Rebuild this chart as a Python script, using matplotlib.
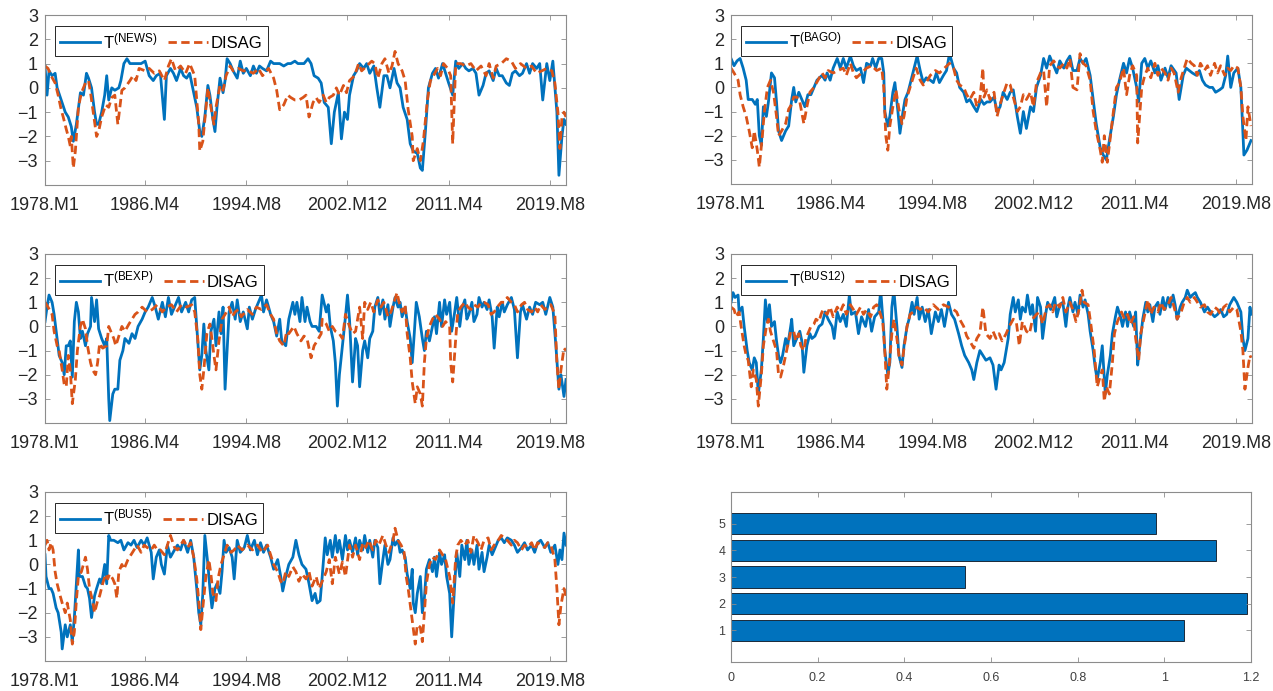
import matplotlib
matplotlib.use("Agg")
import matplotlib.pyplot as plt
import numpy as np

plt.rcParams['font.family'] = ['Liberation Sans', 'DejaVu Sans']

# x axis: month index, 1 = 1978.M1
tick_pos = [1, 100, 200, 300, 400, 500]
tick_labels = ['1978.M1', '1986.M4', '1994.M8', '2002.M12', '2011.M4', '2019.M8']

# (month index, value)
news_t = [(1,0.9),(3,-0.3),(5,0.7),(8,0.5),(11,0.6),(13,0.0),(17,-0.5),(21,-1.0),(24,-1.2),(27,-1.6),(29,-2.2),(32,-1.5),(36,-0.2),(39,-0.3),(42,0.6),(44,0.4),(47,0.0),(50,-1.0),(52,-1.5),(54,-1.5),(57,-1.0),(60,-0.3),(62,0.5),(64,-0.5),(67,0.0),(70,-0.1),(74,0.0),(76,0.3),(79,1.0),(82,1.2),(85,1.0),(88,1.0),(91,1.0),(96,1.0),(100,1.1),(104,0.5),(108,0.3),(111,0.5),(115,0.6),(119,-1.3),(121,0.5),(125,0.8),(128,0.6),(131,0.3),(135,0.8),(138,0.5),(141,0.4),(144,0.6),(147,0.0),(151,-0.8),(154,-1.8),(156,-2.0),(159,-1.2),(162,0.1),(164,-0.3),(167,-1.3),(169,-1.8),(171,-0.8),(174,0.4),(177,-0.2),(179,0.3),(181,1.2),(184,1.0),(187,0.7),(191,0.4),(194,1.1),(197,0.6),(200,0.8),(204,0.5),(207,0.9),(210,0.6),(213,0.9),(216,0.8),(220,0.7),(224,1.1),(227,1.0),(230,1.0),(233,1.0),(237,0.9),(241,1.0),(244,1.0),(248,1.1),(251,1.0),(254,1.0),(257,1.0),(261,1.2),(264,1.0),(267,0.5),(271,0.4),(274,0.2),(277,-0.6),(281,-0.8),(284,-2.3),(287,-1.0),(291,-0.2),(294,-2.1),(297,-1.0),(300,-1.3),(302,-0.3),(306,0.5),(309,0.7),(312,1.0),(316,0.8),(319,1.0),(322,0.6),(326,0.9),(329,0.0),(332,-0.8),(336,0.5),(339,0.5),(342,0.0),(346,0.8),(349,0.2),(352,0.0),(355,-0.8),(359,-1.3),(362,-2.3),(365,-2.6),(369,-2.7),(372,-3.3),(374,-3.4),(377,-1.8),(380,0.0),(384,0.6),(387,0.8),(390,0.4),(394,1.0),(397,0.6),(400,0.2),(404,-0.3),(407,1.1),(410,0.8),(414,1.0),(417,0.8),(420,0.7),(424,0.8),(427,0.6),(430,-0.3),(434,0.1),(437,0.6),(440,0.7),(444,0.3),(447,0.8),(450,0.5),(453,0.5),(457,0.2),(460,0.1),(463,0.6),(466,0.7),(470,0.5),(473,0.6),(477,1.0),(480,0.6),(483,1.0),(487,0.8),(490,1.0),(493,-0.5),(497,1.0),(500,0.3),(503,1.1),(507,-1.0),(509,-3.6),(512,-2.0),(514,-1.3),(516,-1.5)]
news_disag = [(1,0.9),(4,0.8),(7,0.5),(11,0.2),(14,-0.3),(17,-0.9),(19,-1.2),(22,-1.7),(24,-2.0),(26,-2.4),(27,-2.0),(29,-3.3),(31,-2.6),(34,-0.8),(37,-0.2),(41,0.2),(44,0.3),(46,-0.2),(49,-1.1),(52,-2.0),(54,-1.8),(57,-1.2),(61,-0.7),(64,-0.8),(67,-0.4),(70,-0.3),(73,-1.5),(77,-0.1),(80,0.0),(85,0.3),(88,0.5),(91,0.3),(94,0.8),(100,0.7),(104,0.8),(109,0.6),(114,0.7),(119,0.3),(123,0.9),(126,1.2),(130,0.7),(135,0.9),(140,0.6),(144,1.0),(149,0.5),(151,-0.5),(153,-1.5),(154,-2.6),(157,-2.2),(159,-1.3),(162,0.0),(165,-0.8),(168,-1.5),(170,-0.8),(174,0.1),(177,-0.1),(180,0.5),(184,0.9),(187,0.7),(192,0.8),(197,0.7),(202,0.7),(207,0.6),(212,0.8),(216,0.5),(222,0.8),(227,0.4),(230,-0.1),(233,-0.9),(237,-0.7),(240,-0.4),(241,-0.3),(244,-0.4),(248,-0.5),(252,-0.5),(256,-0.4),(259,-0.3),(262,-1.2),(266,-0.6),(269,-0.4),(272,-0.6),(276,-0.3),(279,-0.6),(282,-0.4),(286,-0.3),(289,0.0),(292,-0.3),(296,0.1),(299,-0.2),(302,0.3),(307,0.5),(311,1.0),(314,0.7),(319,0.9),(324,1.1),(327,1.0),(330,0.4),(334,1.0),(337,1.2),(341,0.6),(344,0.9),(347,1.5),(350,1.0),(354,0.7),(357,0.3),(360,-0.9),(364,-2.0),(365,-3.0),(369,-2.5),(372,-3.0),(375,-2.2),(379,-0.5),(382,0.3),(385,0.5),(389,0.8),(392,0.5),(395,1.0),(399,0.8),(402,0.5),(404,-2.3),(407,1.0),(412,1.0),(417,0.9),(422,1.0),(427,0.7),(432,0.9),(437,0.5),(440,1.0),(444,0.4),(447,0.9),(452,1.0),(457,1.2),(462,1.1),(466,0.8),(471,1.0),(477,0.8),(482,0.9),(487,0.6),(492,0.7),(497,0.8),(502,0.7),(505,0.2),(508,-1.0),(510,-2.5),(512,-1.2),(514,-1.0),(516,-1.2)]

bago_t = [(1,1.2),(4,0.9),(7,1.1),(10,1.2),(13,0.8),(16,0.3),(18,-0.5),(22,-0.5),(25,-0.7),(27,-0.5),(29,-2.0),(31,-2.4),(33,-0.8),(36,-1.2),(38,-0.6),(41,0.6),(44,0.4),(46,-0.6),(48,-1.8),(51,-2.2),(55,-1.8),(58,-1.6),(61,-0.5),(63,0.0),(65,-0.6),(68,-0.2),(71,-0.5),(74,-0.8),(77,-0.3),(80,-0.3),(83,0.0),(86,0.3),(91,0.5),(94,0.3),(96,0.6),(99,0.3),(102,0.8),(106,1.2),(109,0.8),(112,1.2),(115,0.8),(119,1.3),(122,0.9),(125,0.7),(129,0.8),(132,0.2),(135,1.0),(139,0.9),(141,1.2),(144,0.8),(147,1.2),(150,1.2),(152,0.6),(153,-1.0),(156,-1.6),(158,-1.2),(161,-0.2),(163,0.2),(166,-1.0),(168,-1.9),(171,-1.0),(173,-0.5),(176,-0.2),(179,0.3),(182,0.8),(185,1.3),(188,0.7),(191,0.2),(194,0.4),(198,0.3),(201,0.2),(204,0.6),(207,0.2),(211,0.5),(214,0.7),(217,1.4),(221,0.8),(224,0.6),(227,0.0),(231,-0.2),(234,-0.6),(237,-0.5),(241,-0.8),(244,-1.0),(248,-0.5),(251,-0.7),(254,-0.6),(257,-0.6),(261,-0.4),(264,-1.0),(267,-0.8),(270,-0.2),(274,-0.5),(277,-0.2),(280,-0.1),(284,-1.2),(287,-1.9),(290,-1.0),(293,-1.7),(297,-0.8),(300,-1.0),(303,0.0),(307,0.5),(310,1.2),(313,0.8),(316,1.3),(320,0.9),(323,0.6),(326,1.1),(330,0.8),(333,1.1),(336,1.3),(339,0.7),(343,0.7),(346,1.2),(349,1.0),(352,1.2),(356,0.5),(359,-0.5),(362,-1.5),(366,-2.5),(369,-2.8),(372,-3.0),(375,-2.2),(379,-1.2),(382,-0.3),(385,0.3),(389,1.0),(392,0.6),(395,1.2),(398,0.8),(402,0.0),(404,-0.6),(407,1.0),(410,1.2),(413,0.8),(416,1.1),(420,0.6),(423,0.9),(426,0.3),(430,0.8),(433,0.4),(436,0.9),(441,0.6),(444,-0.5),(448,0.5),(451,0.8),(454,0.7),(457,0.6),(461,0.5),(464,0.7),(467,0.3),(470,0.1),(474,0.0),(477,0.0),(480,-0.2),(484,-0.1),(487,0.0),(490,0.5),(492,1.3),(495,0.0),(498,0.6),(502,0.8),(505,0.0),(508,-2.8),(511,-2.6),(515,-2.2)]
bago_disag = [(1,0.8),(4,0.6),(8,0.3),(10,-0.3),(13,-0.8),(16,-1.2),(19,-1.8),(22,-2.5),(24,-1.8),(27,-2.6),(29,-3.3),(32,-2.0),(34,-1.0),(37,0.0),(40,0.3),(43,-0.2),(46,-1.2),(48,-2.0),(51,-1.8),(55,-1.5),(58,-0.9),(61,-0.7),(63,-0.4),(66,-0.4),(69,-0.6),(73,-1.5),(76,-0.8),(79,-0.2),(83,0.0),(87,0.3),(91,0.6),(94,0.4),(97,0.7),(102,0.6),(107,0.7),(112,0.8),(115,0.5),(119,1.0),(122,0.6),(125,0.4),(130,0.6),(135,0.8),(140,0.9),(145,0.7),(150,0.8),(152,0.0),(154,-2.0),(156,-2.6),(158,-1.6),(161,-0.8),(164,-0.1),(167,-0.9),(170,-1.5),(172,-1.2),(175,-0.4),(178,0.0),(181,0.4),(184,0.8),(188,0.3),(191,0.1),(194,0.2),(198,0.5),(203,0.7),(207,0.6),(212,0.8),(217,1.0),(221,0.8),(224,0.3),(227,0.1),(231,0.0),(234,-0.3),(237,-0.5),(241,-0.2),(244,-0.8),(247,-0.5),(250,0.8),(251,-0.4),(254,-0.1),(257,-0.5),(261,-0.2),(264,-1.2),(267,-0.7),(270,-0.3),(274,0.2),(277,0.1),(280,-0.4),(284,-1.0),(287,-0.8),(290,-0.3),(293,-0.5),(297,-0.2),(300,-0.8),(303,0.2),(307,0.6),(310,0.7),(313,-0.8),(316,0.9),(320,1.1),(323,0.9),(326,0.8),(330,1.0),(333,0.8),(336,1.2),(339,0.0),(343,-0.1),(346,1.4),(349,1.0),(352,0.9),(356,0.3),(359,-1.0),(362,-1.8),(366,-2.6),(368,-3.1),(370,-2.0),(373,-3.1),(375,-2.4),(379,-1.0),(382,0.0),(385,0.2),(389,0.8),(392,-0.3),(395,0.5),(398,0.9),(402,0.5),(403,-2.3),(407,0.0),(410,0.5),(413,0.8),(416,0.4),(420,1.0),(423,0.5),(426,0.8),(430,0.6),(433,0.3),(436,0.8),(439,0.6),(443,-0.2),(446,0.4),(449,0.8),(452,1.2),(456,1.0),(459,0.9),(462,0.5),(465,1.0),(469,0.7),(472,0.9),(475,0.5),(479,1.0),(482,0.6),(485,0.9),(489,0.5),(492,0.8),(495,0.7),(498,0.9),(502,0.8),(505,0.0),(507,-1.2),(510,-2.2),(512,-0.8),(515,-1.6)]

bexp_t = [(1,0.2),(3,0.8),(5,1.3),(8,1.0),(10,0.5),(13,-0.5),(15,-1.2),(18,-1.5),(20,-2.0),(22,-0.8),(24,-0.8),(26,-0.6),(28,-2.1),(30,0.2),(32,1.0),(34,0.6),(36,-0.5),(38,-0.2),(41,-0.8),(43,-0.3),(46,0.0),(47,1.2),(50,0.2),(52,1.1),(54,-0.1),(57,-0.5),(60,-0.8),(62,-0.5),(64,-3.0),(65,-3.9),(68,-2.8),(70,-2.6),(73,-2.6),(75,-1.4),(78,-1.0),(80,-0.5),(84,-0.7),(87,-0.3),(90,-0.5),(93,0.0),(97,0.3),(100,0.6),(103,0.8),(107,1.2),(110,0.8),(113,0.3),(117,1.0),(120,0.4),(123,1.2),(126,0.5),(130,0.9),(133,1.2),(136,0.6),(140,1.0),(143,0.6),(146,1.1),(149,1.2),(152,-0.6),(154,-1.8),(156,-1.2),(158,0.1),(160,-1.0),(163,-1.8),(165,-0.2),(168,0.3),(170,-0.8),(173,0.6),(175,-0.3),(177,0.8),(179,-2.6),(183,0.6),(186,1.0),(189,0.3),(191,1.1),(194,0.2),(197,0.6),(201,-0.1),(203,0.8),(206,0.3),(209,0.7),(212,1.0),(215,1.3),(217,0.6),(220,1.1),(224,0.5),(227,0.2),(230,-0.4),(233,0.3),(235,-0.6),(239,-0.8),(242,0.3),(246,1.0),(248,0.5),(250,1.0),(253,0.2),(255,1.2),(258,0.2),(260,0.8),(263,0.2),(265,0.0),(269,0.0),(272,-0.2),(275,1.3),(279,0.6),(281,0.9),(283,0.0),(286,-0.6),(288,-1.5),(290,-3.3),(292,-2.0),(295,-0.8),(298,0.4),(300,1.3),(302,0.3),(305,-2.3),(308,-0.5),(310,-0.8),(312,-2.5),(315,-1.0),(317,-0.6),(320,-1.3),(322,-0.5),(325,-0.2),(327,0.8),(330,1.2),(332,0.5),(335,1.1),(337,0.3),(340,0.9),(342,0.0),(345,0.8),(347,1.2),(350,0.8),(352,1.0),(354,0.4),(357,0.8),(359,0.2),(362,-0.5),(364,-1.5),(366,-0.3),(368,1.0),(371,0.4),(374,-0.5),(376,-1.0),(378,-0.2),(381,-0.6),(384,0.0),(386,0.4),(388,-0.3),(391,1.0),(393,0.0),(396,1.1),(398,0.5),(401,1.0),(403,-0.2),(406,0.6),(408,1.2),(411,0.0),(413,0.7),(416,1.1),(418,0.3),(420,0.5),(423,1.0),(425,0.2),(428,0.5),(430,1.2),(433,0.8),(435,1.0),(438,0.7),(440,1.1),(443,0.4),(445,-0.9),(448,0.8),(450,0.4),(453,1.0),(455,0.6),(458,0.9),(462,1.2),(465,0.7),(468,-1.3),(471,0.6),(473,0.9),(477,0.3),(480,0.8),(483,0.5),(486,1.0),(490,0.9),(493,1.0),(496,0.5),(500,1.2),(503,0.8),(506,-0.8),(509,-2.6),(511,-2.0),(514,-2.9),(516,-2.2)]
bexp_disag = [(1,1.0),(4,0.8),(8,0.5),(10,-0.2),(13,-0.8),(15,-1.0),(18,-1.8),(20,-2.4),(22,-2.5),(24,-1.2),(26,-1.8),(28,-3.2),(31,-2.2),(33,-1.0),(36,0.0),(38,0.3),(41,-0.1),(43,-0.8),(46,-1.5),(48,-1.8),(51,-2.0),(53,-1.5),(55,-0.7),(58,-0.9),(62,-0.8),(64,0.0),(66,-0.2),(69,-0.5),(71,-0.8),(74,-0.4),(77,0.0),(80,-0.2),(84,0.1),(87,0.3),(90,0.5),(93,0.6),(97,0.8),(102,0.6),(107,0.7),(112,0.9),(117,0.6),(121,0.8),(126,0.9),(131,0.6),(136,0.9),(141,0.8),(146,0.9),(149,0.6),(152,-0.5),(154,-2.0),(156,-2.6),(158,-1.8),(161,-0.3),(164,0.1),(166,-0.5),(168,-1.2),(170,-1.8),(173,-0.6),(176,0.3),(179,0.5),(183,0.8),(186,0.4),(189,0.6),(192,0.7),(195,0.4),(201,0.7),(206,0.5),(210,0.8),(215,0.7),(220,0.9),(224,0.5),(227,0.3),(230,-0.3),(233,-0.6),(237,-0.8),(240,-0.2),(242,-0.3),(247,0.0),(250,-0.3),(254,-0.6),(257,-0.4),(260,-0.5),(264,-1.3),(267,-0.8),(270,-0.6),(274,-0.3),(275,0.3),(279,0.1),(282,-0.2),(285,0.0),(288,-0.2),(292,-0.3),(295,-0.5),(298,0.5),(302,0.0),(305,-0.3),(308,-0.2),(312,0.8),(315,-0.5),(317,1.0),(320,0.7),(323,1.0),(326,0.6),(330,1.1),(333,0.8),(336,1.0),(340,0.4),(343,0.6),(346,1.0),(349,1.4),(351,1.0),(354,0.6),(357,0.9),(359,-0.3),(362,-1.3),(364,-2.3),(367,-3.2),(369,-2.5),(372,-2.8),(374,-3.3),(376,-1.5),(378,-0.5),(381,0.0),(384,0.3),(387,0.5),(391,0.3),(394,0.0),(397,0.2),(401,0.0),(402,-1.5),(404,-2.3),(407,-0.5),(409,0.6),(412,0.8),(416,1.0),(419,0.8),(422,0.7),(425,0.9),(429,0.8),(432,1.0),(435,1.0),(439,0.9),(442,0.5),(445,0.6),(448,0.8),(452,1.0),(455,1.0),(458,1.2),(462,1.0),(465,0.9),(468,0.6),(472,0.9),(475,1.0),(478,0.7),(482,0.6),(485,0.8),(488,0.6),(491,0.9),(495,0.7),(498,0.8),(501,0.9),(505,0.5),(507,-1.5),(509,-2.6),(511,-1.8),(514,-0.9),(516,-1.0)]

bus12_t = [(1,1.0),(3,1.4),(5,1.2),(8,1.3),(9,0.6),(12,0.8),(14,0.0),(17,-1.0),(19,-1.5),(22,-1.8),(24,-1.3),(26,-1.5),(28,-2.8),(31,-1.8),(33,-0.5),(35,1.1),(37,0.2),(39,0.9),(41,0.0),(44,0.2),(46,-0.6),(48,-1.2),(50,-1.5),(52,-1.2),(55,-0.5),(57,-0.8),(60,0.0),(61,0.3),(63,-0.8),(66,-0.5),(69,-0.2),(71,-0.6),(73,-1.9),(76,-0.8),(79,-0.3),(81,-0.5),(84,-0.4),(88,0.0),(91,0.1),(94,0.6),(97,0.3),(101,0.0),(103,-0.5),(106,0.6),(109,0.2),(112,0.5),(115,0.0),(118,1.3),(120,0.5),(124,0.6),(127,-0.3),(130,0.4),(134,0.0),(137,0.7),(140,-0.2),(143,0.4),(147,0.6),(149,1.5),(152,-0.2),(153,-1.0),(156,-2.0),(158,-1.5),(160,0.8),(162,1.5),(165,0.0),(167,-1.2),(170,-1.7),(172,-0.8),(175,0.0),(177,0.3),(180,1.0),(182,0.5),(185,1.2),(187,0.3),(190,0.8),(193,0.2),(196,0.7),(199,-0.3),(203,0.6),(206,0.2),(209,0.7),(212,0.0),(216,1.0),(219,0.5),(222,0.3),(226,-0.3),(229,-0.8),(232,-1.2),(236,-1.5),(239,-1.8),(241,-2.2),(244,-1.5),(247,-1.0),(250,-1.2),(253,-1.4),(257,-1.3),(260,-1.6),(263,-2.6),(266,-1.6),(268,-1.8),(271,-1.5),(275,-0.5),(277,0.5),(280,1.2),(282,0.6),(285,1.1),(287,0.3),(289,0.8),(292,0.6),(294,1.3),(297,0.5),(299,0.9),(302,-0.2),(304,1.2),(307,0.8),(309,-0.5),(312,0.5),(314,1.0),(317,0.7),(321,1.2),(323,0.4),(326,0.9),(329,1.0),(332,0.0),(334,0.8),(336,1.2),(339,0.6),(341,1.0),(344,0.5),(346,1.3),(349,0.8),(351,1.1),(354,0.5),(356,-0.2),(359,-1.0),(361,-1.7),(363,-2.2),(366,-1.5),(368,-0.8),(371,-2.8),(373,-2.0),(376,-1.2),(378,-0.3),(381,0.4),(383,0.8),(386,0.4),(388,0.0),(391,0.6),(393,0.0),(395,0.6),(399,0.0),(401,0.6),(403,-1.6),(405,-0.8),(408,0.3),(411,1.0),(413,0.6),(415,0.9),(418,0.2),(420,0.8),(423,1.0),(425,0.5),(428,1.2),(430,0.7),(433,1.2),(435,0.8),(438,1.3),(440,0.9),(442,0.3),(445,0.8),(447,1.0),(450,1.2),(452,1.5),(455,1.2),(457,1.3),(460,1.4),(462,1.2),(465,1.0),(469,0.6),(472,0.8),(475,0.6),(479,0.4),(482,0.5),(485,0.7),(488,0.4),(491,0.5),(494,0.9),(498,1.2),(501,1.0),(505,0.6),(507,-0.5),(509,-1.0),(512,-0.5),(514,0.8),(515,0.5)]
bus12_disag = [(1,0.8),(4,0.7),(6,0.4),(9,0.6),(11,0.0),(14,-0.8),(16,-1.2),(18,-1.4),(21,-2.5),(23,-1.8),(26,-2.2),(28,-3.3),(31,-2.0),(33,-0.8),(36,0.0),(38,0.3),(40,-0.2),(43,-0.6),(46,-1.0),(48,-2.0),(50,-2.1),(53,-1.6),(56,-1.0),(58,-0.6),(60,-0.2),(63,-0.2),(65,-0.6),(68,-0.3),(70,-0.8),(73,-1.0),(75,-0.5),(78,-0.2),(80,0.0),(83,0.1),(85,0.3),(88,0.2),(90,0.5),(92,0.7),(96,0.5),(99,0.8),(102,0.4),(106,0.8),(109,0.6),(112,0.9),(115,0.5),(119,0.9),(122,0.7),(125,0.5),(129,0.8),(132,0.5),(135,0.7),(139,0.4),(142,0.8),(145,0.9),(148,0.6),(151,0.2),(153,-1.0),(155,-2.6),(157,-1.8),(160,-0.3),(162,0.3),(165,-0.5),(167,-1.2),(170,-1.6),(172,-0.9),(175,0.0),(178,0.5),(181,0.6),(185,0.8),(188,0.7),(191,0.8),(196,0.6),(201,0.9),(206,0.7),(211,0.9),(216,0.8),(221,0.7),(224,0.6),(227,0.3),(231,0.0),(234,-0.4),(237,-0.6),(241,-0.9),(244,-0.5),(247,-0.3),(250,0.8),(253,-0.3),(257,-0.5),(260,-0.2),(263,-0.5),(266,-0.3),(269,-0.6),(273,-0.3),(276,0.0),(280,0.3),(283,0.2),(286,-0.8),(289,0.2),(293,-0.2),(296,-0.3),(299,0.3),(303,0.5),(306,0.6),(309,0.1),(313,0.8),(316,0.9),(319,0.6),(322,1.0),(326,0.8),(329,1.2),(332,0.6),(336,1.0),(339,0.7),(342,0.2),(345,0.7),(348,1.5),(350,1.0),(354,0.9),(357,0.0),(360,-1.0),(363,-2.5),(365,-2.2),(368,-1.8),(370,-3.1),(372,-2.5),(375,-2.8),(378,-1.5),(380,-0.3),(383,0.2),(387,0.6),(390,0.3),(393,0.5),(396,0.1),(399,0.4),(401,-0.5),(404,-1.4),(406,-0.3),(410,0.5),(413,1.1),(416,0.5),(419,0.8),(423,0.6),(426,1.0),(429,0.7),(433,0.9),(436,1.2),(439,0.8),(442,0.3),(446,0.6),(449,1.0),(452,1.2),(455,1.0),(459,1.2),(462,1.0),(465,0.8),(469,0.9),(472,0.6),(475,0.5),(479,0.8),(482,0.7),(485,0.5),(488,0.8),(491,0.9),(494,0.6),(498,0.8),(501,0.7),(505,-0.2),(507,-1.0),(509,-2.6),(512,-1.7),(514,-1.2),(515,-1.3)]

bus5_t = [(1,0.4),(2,-0.5),(5,-1.0),(7,-1.0),(9,-1.2),(12,-1.8),(14,-2.0),(17,-2.8),(18,-3.5),(21,-2.5),(23,-3.0),(26,-2.5),(28,-3.2),(30,-2.2),(32,-0.8),(34,0.6),(35,-0.5),(38,-0.5),(41,-0.9),(43,-1.0),(45,-1.4),(47,-2.2),(50,-1.3),(52,-1.0),(55,-0.6),(57,-0.8),(60,0.0),(62,-0.8),(64,1.2),(66,1.0),(69,1.0),(73,0.9),(76,1.0),(79,0.6),(83,0.9),(86,0.8),(89,1.0),(92,0.7),(96,1.0),(99,0.8),(102,1.1),(106,0.5),(108,-0.6),(111,0.3),(114,0.6),(116,0.0),(119,-0.4),(122,0.8),(125,0.3),(129,0.6),(132,0.8),(135,0.6),(138,1.0),(142,0.5),(145,1.0),(148,0.3),(151,-1.0),(153,-2.0),(155,-2.5),(157,-1.2),(159,1.2),(162,0.0),(164,-1.0),(166,-1.8),(169,-1.0),(171,-0.8),(174,-1.2),(176,-0.3),(178,1.0),(180,0.5),(183,0.7),(186,0.3),(188,-0.6),(191,1.0),(194,0.5),(198,0.7),(201,1.2),(204,0.6),(208,1.0),(211,0.4),(214,0.9),(217,0.5),(220,0.8),(224,0.3),(227,-0.2),(231,0.2),(234,-0.5),(236,-1.1),(239,-0.5),(242,0.0),(246,0.3),(249,1.0),(252,0.4),(255,0.0),(259,-0.2),(262,-0.8),(265,-1.5),(268,-1.2),(270,-1.6),(273,-1.5),(275,-0.5),(278,1.1),(280,0.4),(283,1.0),(285,0.3),(288,1.2),(290,0.5),(292,1.0),(295,0.2),(298,1.2),(300,0.6),(302,1.0),(305,0.5),(308,1.1),(310,0.4),(312,1.0),(315,0.6),(317,1.2),(320,0.5),(322,1.0),(325,0.3),(327,1.0),(330,0.7),(332,-0.8),(335,0.2),(337,0.8),(340,0.0),(342,0.2),(345,1.1),(347,0.8),(350,1.0),(352,0.5),(354,0.6),(357,0.3),(359,-0.4),(362,-1.0),(364,-0.2),(365,-1.6),(367,-2.0),(369,-1.2),(372,-0.5),(374,-2.0),(376,-1.4),(378,-0.2),(381,0.2),(384,-0.3),(386,0.3),(388,-0.5),(391,0.5),(393,0.0),(396,0.4),(398,-0.5),(401,-1.2),(403,-3.0),(406,-0.8),(408,0.5),(411,-0.5),(413,0.8),(416,0.2),(418,1.0),(420,0.0),(423,0.6),(425,0.0),(428,0.8),(430,-0.2),(433,0.5),(435,-0.3),(438,0.3),(440,0.8),(443,0.4),(445,0.6),(449,1.0),(452,1.1),(455,0.9),(458,1.1),(462,1.0),(465,0.8),(468,0.5),(472,0.7),(475,0.9),(478,0.6),(482,0.8),(485,0.5),(488,0.9),(491,1.0),(495,0.7),(498,0.9),(501,0.5),(505,0.8),(508,0.0),(510,0.6),(512,0.2),(514,1.3),(516,0.8)]
bus5_disag = [(1,0.8),(3,1.0),(5,0.6),(7,0.9),(9,0.6),(11,-0.3),(13,-0.8),(16,-1.3),(18,-1.6),(21,-2.0),(23,-1.6),(26,-2.3),(28,-3.3),(30,-2.8),(32,-1.5),(34,-0.5),(37,-0.3),(39,0.0),(41,0.3),(43,-0.2),(45,-1.0),(48,-1.5),(50,-2.0),(53,-1.5),(55,-1.3),(58,-0.8),(61,-0.4),(63,-0.6),(65,-0.4),(68,-0.6),(70,-0.8),(72,-1.4),(74,-0.3),(77,0.0),(79,-0.2),(83,0.2),(86,0.4),(89,0.6),(92,0.8),(96,0.5),(99,0.8),(102,0.7),(106,0.6),(109,0.8),(112,0.6),(115,0.6),(119,0.4),(122,0.8),(125,1.2),(129,0.7),(132,0.6),(135,0.8),(138,1.0),(142,0.7),(145,0.9),(148,0.3),(151,-0.6),(153,-1.5),(155,-2.7),(157,-1.8),(160,-0.5),(163,0.2),(165,-0.4),(167,-1.2),(170,-1.5),(172,-0.6),(175,0.0),(178,0.4),(181,0.8),(185,0.5),(188,0.6),(191,0.8),(196,0.6),(201,0.8),(206,0.6),(211,0.8),(216,0.5),(221,0.8),(224,0.4),(227,0.0),(231,-0.3),(234,-0.7),(236,-0.8),(239,-0.3),(242,-0.5),(246,-0.1),(249,-0.3),(252,-0.7),(255,-0.4),(259,-0.6),(262,-0.3),(265,-0.9),(269,-0.5),(272,-1.0),(275,-0.7),(279,-0.3),(282,0.2),(285,-0.8),(288,0.3),(292,-0.4),(295,0.1),(298,-0.5),(302,0.8),(305,0.3),(308,0.8),(312,0.2),(315,0.9),(318,0.7),(321,1.0),(325,0.6),(328,1.0),(331,0.8),(335,1.2),(338,0.8),(341,0.5),(345,1.0),(347,1.5),(350,1.0),(353,0.8),(356,0.5),(358,-0.5),(360,-1.0),(363,-2.0),(364,-2.3),(367,-3.3),(369,-2.5),(372,-2.6),(374,-3.2),(376,-2.0),(378,-0.8),(381,0.0),(384,0.3),(387,0.2),(391,0.6),(394,0.4),(397,0.2),(401,-0.5),(404,-1.6),(407,0.3),(409,0.8),(412,1.0),(416,0.8),(419,1.0),(422,0.5),(425,1.2),(429,0.9),(432,0.6),(435,1.0),(439,1.1),(442,0.6),(445,0.8),(449,1.0),(452,1.2),(455,1.1),(458,1.0),(462,0.8),(465,1.0),(468,0.9),(472,0.6),(475,0.8),(478,0.7),(482,0.9),(485,0.6),(488,0.9),(491,0.8),(495,0.7),(498,0.9),(501,0.8),(505,0.2),(507,-1.0),(509,-2.5),(511,-1.7),(514,-1.0),(516,-1.3)]

# bar panel
bar_pos = [1, 2, 3, 4, 5]
bar_vals = [1.045, 1.19, 0.54, 1.12, 0.98]

BLUE = '#0072BD'
ORANGE = '#D95319'
FRAME = '#8c8c8c'
TXT = '#262626'

W, H = 1273, 691
fig = plt.figure(figsize=(W / 100, H / 100), dpi=100)


def px_axes(left, top, right, bottom):
    return fig.add_axes([left / W, 1 - bottom / H, (right - left) / W, (bottom - top) / H])


def style_axes(ax, size):
    for s in ax.spines.values():
        s.set_color(FRAME)
        s.set_linewidth(0.8)
    ax.tick_params(direction='in', top=True, right=True, length=3.5, width=0.6,
                   color=FRAME, labelcolor=TXT, labelsize=size)


panels = [
    (news_t, news_disag, 'NEWS', (45, 15, 566, 185)),
    (bago_t, bago_disag, 'BAGO', (731, 15, 1252, 184)),
    (bexp_t, bexp_disag, 'BEXP', (45, 254, 566, 423)),
    (bus12_t, bus12_disag, 'BUS12', (731, 254, 1252, 423)),
    (bus5_t, bus5_disag, 'BUS5', (45, 492, 566, 661)),
]

for t_ser, d_ser, name, box in panels:
    ax = px_axes(*box)
    tx, ty = np.array(t_ser).T
    dx, dy = np.array(d_ser).T
    l1, = ax.plot(tx, ty, color=BLUE, lw=2.0)
    l2, = ax.plot(dx, dy, color=ORANGE, lw=2.0, linestyle=(0, (3, 1.6)))
    ax.set_xlim(1, 516)
    ax.set_ylim(-4, 3)
    ax.set_yticks([-3, -2, -1, 0, 1, 2, 3])
    ax.set_xticks(tick_pos)
    ax.set_xticklabels(tick_labels)
    style_axes(ax, 13)
    ax.tick_params(axis='x', pad=9)
    ax.tick_params(axis='y', pad=5)
    leg = ax.legend([l1, l2], [r'$\mathregular{T^{(%s)}}$' % name, 'DISAG'],
                    ncol=2, loc='upper left', bbox_to_anchor=(0.019, 0.935),
                    borderaxespad=0, fontsize=12, frameon=True, fancybox=False,
                    framealpha=1, edgecolor=TXT, borderpad=0.3,
                    handlelength=2.4, handletextpad=0.2, columnspacing=0.6)
    leg.get_frame().set_linewidth(0.7)

# horizontal bar panel
axb = px_axes(731, 492, 1251, 662)
axb.barh(bar_pos, bar_vals, height=0.8, color=BLUE, edgecolor='#1a2a3a', linewidth=0.7)
axb.set_xlim(0, 1.2)
axb.set_ylim(-0.18, 6.18)
axb.set_yticks(bar_pos)
axb.set_xticks([0, 0.2, 0.4, 0.6, 0.8, 1.0, 1.2])
axb.set_xticklabels(['0', '0.2', '0.4', '0.6', '0.8', '1', '1.2'])
style_axes(axb, 9)
axb.tick_params(labelcolor='#404040')
axb.tick_params(axis='x', pad=7)
axb.tick_params(axis='y', pad=4)

fig.savefig('out.png', dpi=100)
